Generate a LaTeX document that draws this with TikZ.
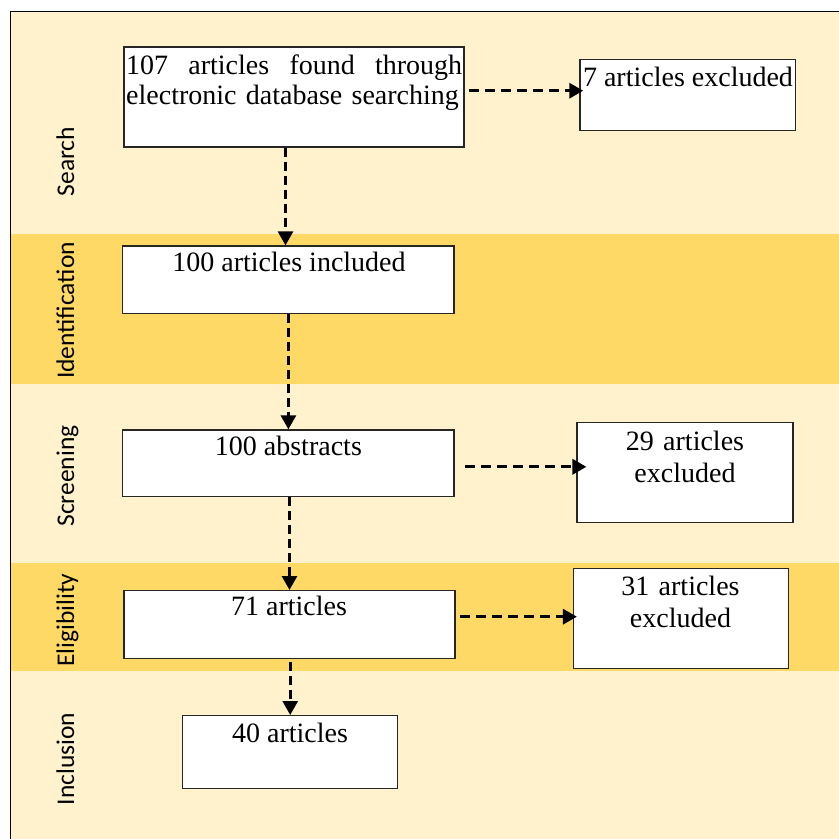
\documentclass[tikz,border=0pt]{standalone}
\usepackage{fontspec}
\setmainfont{Liberation Serif}
\newfontfamily\labfont{Carlito}
\usetikzlibrary{arrows.meta}
\definecolor{bandlight}{HTML}{FFF2CC}
\definecolor{banddark}{HTML}{FFD966}
\begin{document}
\begin{tikzpicture}[x=1pt,y=-1pt,
  box/.style={draw=black!85, line width=1.4pt, fill=white, inner sep=0pt},
  txt/.style={font=\fontsize{28}{30}\selectfont, inner sep=0pt},
  txttwo/.style={font=\fontsize{28}{32}\selectfont, inner sep=0pt, text width=215pt, align=center, anchor=base},
  lab/.style={font=\labfont\fontsize{25.5}{28}\selectfont, rotate=90, anchor=base, inner sep=0pt},
  harr/.style={line width=3.3pt, dash pattern=on 10pt off 6pt, -{Triangle[length=14pt,width=15pt]}},
  varr/.style={line width=2.8pt, dash pattern=on 9pt off 5pt, -{Triangle[length=14pt,width=15pt]}}]
\useasboundingbox (0,0) rectangle (839,839);
\fill[white] (0,0) rectangle (839,839);
% bands
\fill[bandlight] (10,11) rectangle (839,234.3);
\fill[banddark] (10,234.3) rectangle (839,384.3);
\fill[bandlight] (10,384.3) rectangle (839,563.3);
\fill[banddark] (10,563.3) rectangle (839,670.7);
\fill[bandlight] (10,670.7) rectangle (839,839);
\draw[line width=1pt] (10,839) -- (10,11) -- (839,11);
% side labels
\node[lab] (lsearch) at (74,161.5) {Search};
\node[lab] (lident) at (74,310.5) {Identification};
\node[lab] (lscreen) at (74,476) {Screening};
\node[lab] (lelig) at (74,620) {Eligibility};
\node[lab] (lincl) at (74,759) {Inclusion};
% boxes
\node[box, minimum width=340pt, minimum height=100pt] (A) at (294,97) {};
\node[box, minimum width=215.7pt, minimum height=71.4pt] (B) at (687.8,95) {};
\node[box, minimum width=331.3pt, minimum height=67.3pt] (C) at (288.4,279.7) {};
\node[box, minimum width=331.3pt, minimum height=66.7pt] (D) at (288.4,463.4) {};
\node[box, minimum width=215.7pt, minimum height=99.6pt] (E) at (685,472.5) {};
\node[box, minimum width=331pt, minimum height=67.6pt] (F) at (289.5,624.5) {};
\node[box, minimum width=215pt, minimum height=100pt] (G) at (680.8,618.3) {};
\node[box, minimum width=215pt, minimum height=72.6pt] (H) at (290.2,752) {};
% texts
\node[txt, anchor=base west, text width=336pt, align=left] (tA) at (126,74.3)
  {107\hfill articles\hfill found\hfill through\\electronic database searching};
\node[txt, anchor=base] (tB) at (688,86) {7 articles excluded};
\node[txt, anchor=base] (tC) at (289,271.7) {100 articles included};
\node[txt, anchor=base] (tD) at (288.4,455) {100 abstracts};
\node[txttwo] (tE) at (685,450) {29 articles\\excluded};
\node[txt, anchor=base] (tF) at (289,615) {71 articles};
\node[txttwo] (tG) at (680.5,595) {31 articles\\excluded};
\node[txt, anchor=base] (tH) at (290,742.7) {40 articles};
% connectors
\draw[harr] ([xshift=4pt,yshift=6.3pt]A.east) -- ([xshift=4pt,yshift=6.3pt]A.east -| B.west);
\draw[varr] ([xshift=-8.5pt]A.south) -- ([xshift=-8.5pt]A.south |- C.north);
\draw[varr] (C.south) -- (C.south |- D.north);
\draw[harr] ([xshift=10pt,yshift=-3.4pt]D.east) -- ([xshift=10pt,yshift=-3.4pt]D.east -| E.west);
\draw[varr] (F.north |- D.south) -- (F.north);
\draw[harr] ([xshift=4.3pt,yshift=7.8pt]F.east) -- ([xshift=4.3pt,yshift=7.8pt]F.east -| G.west);
\draw[varr] ([yshift=-3pt]H.north |- F.south) -- (H.north);
\end{tikzpicture}
\end{document}
